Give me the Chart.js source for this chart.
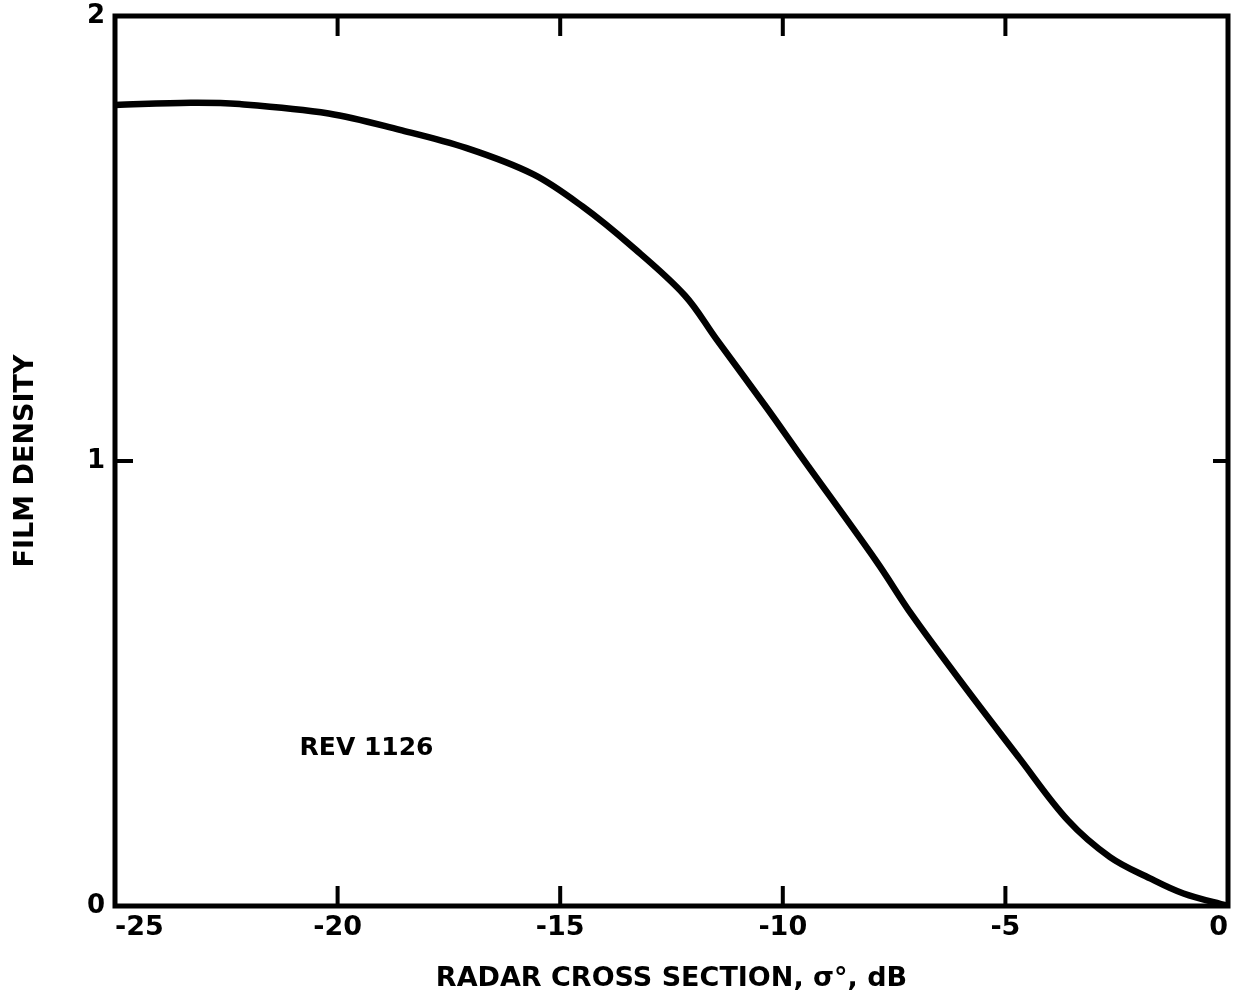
<!DOCTYPE html>
<html>
<head>
<meta charset="utf-8">
<script src="https://cdn.jsdelivr.net/npm/chart.js@4/dist/chart.umd.min.js"></script>
<style>
  html, body { margin: 0; padding: 0; background: #fff; }
  #wrap { width: 1235px; height: 1005px; }
</style>
</head>
<body>
<div id="wrap"><canvas id="film" width="1235" height="1005"></canvas></div>
<script>
// curve: sigma (dB) vs film density
const sigma = [-25, -23.3, -22.2, -20.2, -18.6, -17.1, -15.6, -14.5, -13.4, -12.2, -11.5, -10.35, -9.6, -7.9, -7.1, -5.9, -4.7, -3.6, -2.65, -1.75, -1.0, 0];
const density = [1.80, 1.805, 1.802, 1.781, 1.744, 1.703, 1.644, 1.572, 1.483, 1.372, 1.275, 1.118, 1.012, 0.775, 0.654, 0.491, 0.334, 0.193, 0.110, 0.062, 0.028, 0];

const xTicks = [-25, -20, -15, -10, -5, 0];
const yTicks = [0, 1, 2];
const xTitle = "RADAR CROSS SECTION, \u03c3\u00b0, dB";
const yTitle = "FILM DENSITY";
const noteText = "REV 1126";
const notePos = { x: -19.35, y: 0.355 };

const FONT = "'DejaVu Sans', sans-serif";

// frame, inward ticks and the rev note
const framePlugin = {
  id: "frame",
  afterDatasetsDraw(chart) {
    const { ctx, chartArea: a, scales: { x, y } } = chart;
    ctx.save();
    ctx.strokeStyle = "#000";
    ctx.lineWidth = 5;
    ctx.strokeRect(a.left, a.top, a.right - a.left, a.bottom - a.top);

    ctx.lineWidth = 4;
    ctx.beginPath();
    xTicks.slice(1, -1).forEach(v => {
      const px = x.getPixelForValue(v);
      ctx.moveTo(px, a.top); ctx.lineTo(px, a.top + 20);
      ctx.moveTo(px, a.bottom); ctx.lineTo(px, a.bottom - 20);
    });
    yTicks.slice(1, -1).forEach(v => {
      const py = y.getPixelForValue(v);
      ctx.moveTo(a.left, py); ctx.lineTo(a.left + 18, py);
      ctx.moveTo(a.right, py); ctx.lineTo(a.right - 15, py);
    });
    ctx.stroke();

    ctx.fillStyle = "#000";
    ctx.font = "bold 25px " + FONT;
    ctx.textAlign = "center";
    ctx.textBaseline = "middle";
    ctx.fillText(noteText, x.getPixelForValue(notePos.x), y.getPixelForValue(notePos.y));
    ctx.restore();
  }
};

new Chart(document.getElementById("film"), {
  type: "line",
  data: {
    datasets: [{
      data: sigma.map((s, i) => ({ x: s, y: density[i] })),
      borderColor: "#000",
      borderWidth: 6.5,
      pointRadius: 0,
      tension: 0.35,
      fill: false
    }]
  },
  plugins: [framePlugin],
  options: {
    responsive: false,
    animation: false,
    layout: { padding: { top: 16, right: 7, left: 0, bottom: 0 } },
    plugins: { legend: { display: false }, tooltip: { enabled: false } },
    scales: {
      x: {
        type: "linear",
        min: -25,
        max: 0,
        afterBuildTicks(scale) { scale.ticks = xTicks.map(v => ({ value: v })); },
        afterFit(scale) { scale.height = 99; scale.paddingLeft = 0; scale.paddingRight = 0; },
        grid: { display: false, drawTicks: false },
        border: { display: false },
        ticks: { color: "#000", padding: 6, align: "inner", font: { family: FONT, size: 27, weight: "bold" } },
        title: {
          display: true, text: xTitle, color: "#000",
          padding: { top: 4, bottom: 10 },
          font: { family: FONT, size: 27, weight: "bold" }
        }
      },
      y: {
        min: 0,
        max: 2,
        afterBuildTicks(scale) { scale.ticks = yTicks.map(v => ({ value: v })); },
        afterFit(scale) { scale.width = 115; scale.paddingTop = 0; scale.paddingBottom = 0; },
        grid: { display: false, drawTicks: false },
        border: { display: false },
        ticks: { color: "#000", padding: 10, font: { family: FONT, size: 26, weight: "bold" } },
        title: {
          display: true, text: yTitle, color: "#000",
          padding: { top: 10, bottom: 0 },
          font: { family: FONT, size: 27, weight: "bold" }
        }
      }
    }
  }
});
</script>
</body>
</html>
